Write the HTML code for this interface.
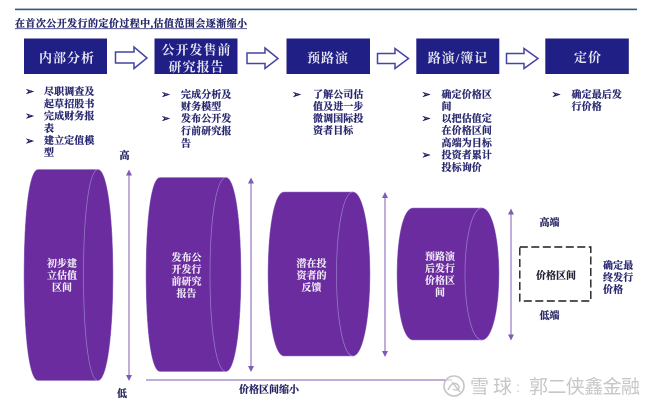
<!DOCTYPE html>
<html lang="zh">
<head>
<meta charset="utf-8">
<style>
html,body{margin:0;padding:0;background:#fff;width:660px;height:407px;overflow:hidden}
svg{display:block;filter:blur(.35px)}
text{font-family:"Liberation Serif","Noto Serif CJK SC",serif;font-weight:700;text-spacing-trim:space-all}
.t{font-size:10px;fill:#24246e;stroke:#24246e;stroke-width:.22px;letter-spacing:.1px}
.w{font-size:10px;fill:#f1ecf7;stroke:#f1ecf7;stroke-width:.15px;text-anchor:middle}
.h{font-size:13px;fill:#e6e6f4;text-anchor:middle;letter-spacing:1px}
.b{font-size:11px;fill:#15155c;stroke:#15155c;stroke-width:.35px;font-family:"DejaVu Sans",sans-serif}
.k{font-size:10px;fill:#22225f;stroke:#22225f;stroke-width:.22px;text-anchor:middle}
.wm{font-family:"Liberation Sans","Noto Sans CJK SC",sans-serif;font-weight:400;font-size:19px;fill:#c6c6c6}
</style>
</head>
<body>
<svg width="660" height="407" viewBox="0 0 660 407" xmlns="http://www.w3.org/2000/svg">
<defs>
<marker id="m" viewBox="0 0 6 6" refX="5" refY="3" markerWidth="6" markerHeight="6" orient="auto-start-reverse"><path d="M0 0L6 3L0 6z" fill="#7f5bb5"/></marker>
</defs>
<rect x="15" y="8.6" width="622" height="1.6" fill="#2f5a82"/>
<text x="15" y="27" textLength="232" lengthAdjust="spacing" style="font-size:10px;fill:#22226a;stroke:#22226a;stroke-width:.22px">在首次公开发行的定价过程中,估值范围会逐渐缩小</text>
<rect x="15" y="28.300" width="232" height=".8" fill="#303078"/>

<g fill="#1f1f85">
<rect x="24" y="38.5" width="83" height="35.5"/>
<rect x="154.5" y="38.5" width="83" height="35.5"/>
<rect x="286.5" y="38.5" width="83.5" height="35.5"/>
<rect x="416.3" y="38.5" width="83" height="35.5"/>
<rect x="545.3" y="38.5" width="83.5" height="35.5"/>
</g>
<text class="h" x="67" y="62.500">内部分析</text>
<text class="h" x="196.500" y="54.500">公开发售前</text>
<text class="h" x="196.500" y="71.500">研究报告</text>
<text class="h" x="328" y="62.500">预路演</text>
<text class="h" x="458" y="62.500">路演/簿记</text>
<text class="h" x="588" y="62">定价</text>

<g fill="#fff" stroke="#4444a4" stroke-width="1.500">
<path d="M115.5 52H134V47L147 58L134 68.5V63H115.5z"/>
<path d="M247 53H265V48L278 58.5L265 68.5V63.500H247z"/>
<path d="M377.500 53.500H395V48.500L408.500 58.500L395 68.500V63.500H377.500z"/>
<path d="M506.500 53.500H524V48.500L538 58.500L524 68.500V63.500H506.500z"/>
</g>

<g>
<text class="b" x="25" y="95">➢</text><text class="b" x="25" y="119.500">➢</text><text class="b" x="25" y="144.500">➢</text>
<text class="b" x="161" y="98">➢</text><text class="b" x="161" y="122">➢</text>
<text class="b" x="292" y="98">➢</text>
<text class="b" x="421.500" y="98">➢</text><text class="b" x="421.500" y="122">➢</text><text class="b" x="421.500" y="158.500">➢</text>
<text class="b" x="551.500" y="98">➢</text>
</g>
<g>
<text class="t" x="44" y="95">尽职调查及</text><text class="t" x="44" y="107.500">起草招股书</text>
<text class="t" x="44" y="119.500">完成财务报</text><text class="t" x="44" y="132">表</text>
<text class="t" x="44" y="144">建立定值模</text><text class="t" x="44" y="156">型</text>

<text class="t" x="181" y="98">完成分析及</text><text class="t" x="181" y="110">财务模型</text>
<text class="t" x="181" y="122">发布公开发</text><text class="t" x="181" y="134.500">行前研究报</text><text class="t" x="181" y="147">告</text>

<text class="t" x="313" y="98">了解公司估</text><text class="t" x="313" y="110">值及进一步</text>
<text class="t" x="313" y="122">微调国际投</text><text class="t" x="313" y="134">资者目标</text>

<text class="t" x="441.500" y="98">确定价格区</text><text class="t" x="441.500" y="110">间</text>
<text class="t" x="441.500" y="122">以把估值定</text><text class="t" x="441.500" y="134">在价格区间</text>
<text class="t" x="441.500" y="146.500">高端为目标</text><text class="t" x="441.500" y="158.500">投资者累计</text>
<text class="t" x="441.500" y="171">投标询价</text>

<text class="t" x="571.500" y="98">确定最后发</text><text class="t" x="571.500" y="110">行价格</text>
</g>

<g fill="#6a2c9e" stroke="#9678c8" stroke-width=".5">
<path d="M38 169.500H98C107 169.500 113 215 113 275C113 335 107 380.500 98 380.500H38C29 380.500 24 335 24 275C24 215 29 169.500 38 169.500z"/>
<path d="M160 177.500H226C235 177.500 241 220 241 274.500C241 329 235 371.500 226 371.500H160C151 371.500 146 329 146 274.500C146 220 151 177.500 160 177.500z"/>
<path d="M284 192H353C363 192 370 230 370 274C370 318 363 356 353 356H284C274 356 268 318 268 274C268 230 274 192 284 192z"/>
<path d="M413 208H482C492 208 499 238 499 274C499 310 492 340 482 340H413C403 340 397 310 397 274C397 238 403 208 413 208z"/>
</g>
<g fill="none" stroke="#9678c8" stroke-width=".8">
<path d="M98 169.500C89 169.500 83.500 215 83.500 275C83.500 335 89 380.500 98 380.500"/>
<path d="M226 177.500C216 177.500 210 220 210 274.500C210 329 216 371.500 226 371.500"/>
<path d="M353 192C343 192 336.500 230 336.500 274C336.500 318 343 356 353 356"/>
<path d="M482 208C472 208 465 238 465 274C465 310 472 340 482 340"/>
</g>
<g>
<text class="w" x="62" y="267">初步建</text><text class="w" x="62" y="279">立估值</text><text class="w" x="62" y="291">区间</text>
<text class="w" x="186.500" y="261">发布公</text><text class="w" x="186.500" y="273">开发行</text><text class="w" x="186.500" y="285">前研究</text><text class="w" x="186.500" y="297">报告</text>
<text class="w" x="311.500" y="267">潜在投</text><text class="w" x="311.500" y="279">资者的</text><text class="w" x="311.500" y="291">反馈</text>
<text class="w" x="440" y="260">预路演</text><text class="w" x="440" y="272">后发行</text><text class="w" x="440" y="284">价格区</text><text class="w" x="440" y="296">间</text>
</g>

<g stroke="#7f5bb5" stroke-width="1">
<line x1="129" y1="170.500" x2="129" y2="380" marker-start="url(#m)" marker-end="url(#m)"/>
<line x1="251" y1="178.500" x2="251" y2="371" marker-start="url(#m)" marker-end="url(#m)"/>
<line x1="385" y1="193" x2="385" y2="356" marker-start="url(#m)" marker-end="url(#m)"/>
<line x1="511" y1="209.500" x2="511" y2="339.500" marker-start="url(#m)" marker-end="url(#m)"/>
</g>
<line x1="146" y1="380" x2="452" y2="380" stroke="#7f5bb5" stroke-width="1"/>

<text class="k" x="124.500" y="159">高</text>
<text class="k" x="122" y="397">低</text>
<text class="k" x="269" y="393">价格区间缩小</text>
<text class="k" x="549.500" y="226">高端</text>
<text class="k" x="549.500" y="319">低端</text>
<rect x="519.800" y="247" width="71" height="54" fill="none" stroke="#1c1c24" stroke-width="1.400" stroke-dasharray="8 3.500"/>
<text class="k" x="556" y="279" style="fill:#1e1e30;stroke:#1e1e30">价格区间</text>
<text class="t" x="603" y="269">确定最</text>
<text class="t" x="603" y="281">终发行</text>
<text class="t" x="603" y="293">价格</text>

<circle cx="454" cy="386" r="10" fill="#fff" fill-opacity=".6" stroke="#c4c4c4" stroke-width="1.600"/>
<path d="M448 390C451 383 455 382 458 385C461 388 457 392 453 389M452 382L460 392" fill="none" stroke="#c4c4c4" stroke-width="1.400"/>
<text class="wm" x="470" y="393" textLength="42" lengthAdjust="spacing">雪球</text>
<text class="wm" x="516" y="392" style="font-size:14px" font-size="14">:</text>
<text class="wm" x="529" y="393" textLength="111" lengthAdjust="spacing">郭二侠鑫金融</text>
</svg>
</body>
</html>
